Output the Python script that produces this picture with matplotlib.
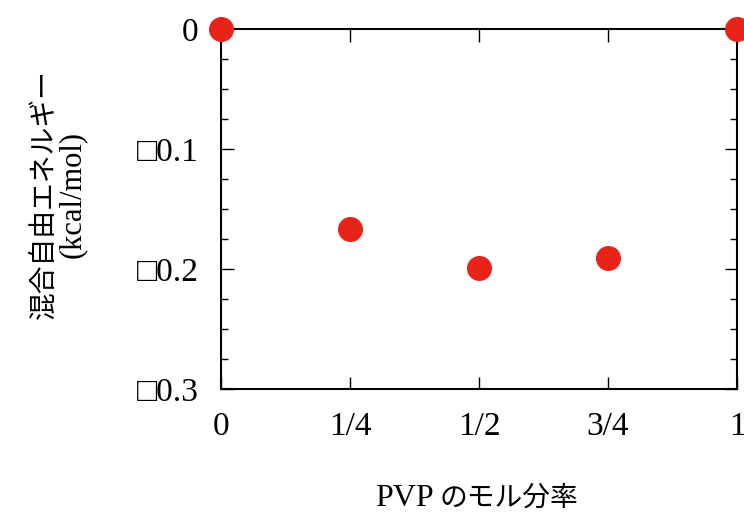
import matplotlib
matplotlib.use("Agg")
import matplotlib.pyplot as plt
from matplotlib.ticker import MultipleLocator

plt.rcParams['font.family'] = ['Liberation Serif', 'Noto Sans CJK JP', 'DejaVu Sans']

x_vals = [0, 0.25, 0.5, 0.75, 1]
y_vals = [0.0, -0.167, -0.199, -0.191, 0.0]
x_ticks = [0, 0.25, 0.5, 0.75, 1]
x_labels = ["0", "1/4", "1/2", "3/4", "1"]
y_ticks = [0, -0.1, -0.2, -0.3]
y_labels = ["0", "□0.1", "□0.2", "□0.3"]

fig = plt.figure(figsize=(7.44, 5.14), dpi=100)
ax = fig.add_axes([221/744, 1-389/514, (737-221)/744, (389-29)/514])

ax.plot(x_vals, y_vals, 'o', color='#e8241a', markersize=17, clip_on=False, zorder=5)

ax.set_xlim(0, 1)
ax.set_ylim(-0.3, 0)
ax.set_xticks(x_ticks)
ax.set_xticklabels(x_labels)
ax.set_yticks(y_ticks)
ax.set_yticklabels(y_labels)
ax.yaxis.set_minor_locator(MultipleLocator(0.025))

ax.tick_params(axis='both', which='major', direction='in', length=9, width=1.0,
               labelsize=24, pad=16, top=True, right=True)
ax.tick_params(axis='y', which='minor', direction='in', length=5, width=1.0,
               right=True, left=True)
for s in ax.spines.values():
    s.set_linewidth(1.5)

# y label (two lines)
fig.text(45/744, 1-194/514, "混合自由エネルギー", rotation=90,
         ha='center', va='center', fontsize=20)
fig.text(72/744, 1-194/514, "(kcal/mol)", rotation=90,
         ha='center', va='center', fontsize=22)
# x label
fig.text(434/744, 1-499/514, "PVP", ha='right', va='center', fontsize=23)
fig.text(440/744, 1-499/514, "のモル分率", ha='left', va='center', fontsize=20)

fig.savefig("out.png", dpi=100)
